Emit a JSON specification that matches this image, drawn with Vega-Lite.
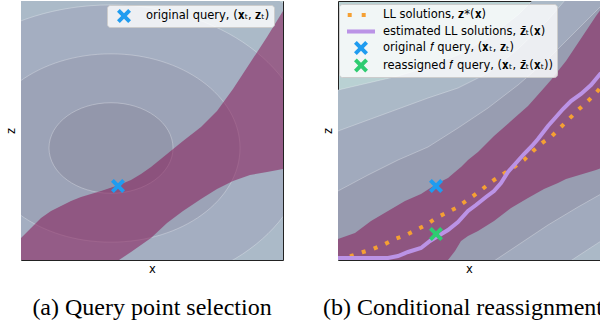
{
  "$schema": "https://vega.github.io/schema/vega-lite/v6.json",
  "background": "white",
  "padding": {"left": 4, "top": 0, "right": 0, "bottom": 0},
  "spacing": 37,
  "config": {
    "axis": {"grid": false, "ticks": false, "labels": false, "domain": false, "titleFont": "DejaVu Sans", "titleFontSize": 11.5, "titleFontWeight": "normal", "titleColor": "#000", "minExtent": 0},
    "axisX": {"titlePadding": 3},
    "axisY": {"titlePadding": 5},
    "view": {"stroke": "#222", "strokeWidth": 1},
    "title": {"font": "Liberation Serif", "fontSize": 24, "fontWeight": "normal", "color": "#000", "orient": "bottom", "offset": 21}
  },
  "datasets": {
    "ellipsesA": [
      {"level": 5, "x": 90, "z": 112, "a": 330},
      {"level": 4, "x": 90, "z": 112, "a": 263},
      {"level": 3, "x": 90, "z": 112, "a": 196},
      {"level": 2, "x": 90, "z": 112, "a": 129},
      {"level": 1, "x": 90, "z": 112, "a": 62}
    ],
    "bandA": [
      {"x": 0, "hi": 22, "lo": 0}, {"x": 10, "hi": 32, "lo": 0}, {"x": 20, "hi": 42, "lo": 0},
      {"x": 30, "hi": 49, "lo": 0}, {"x": 40, "hi": 54, "lo": 0}, {"x": 50, "hi": 59, "lo": 0},
      {"x": 60, "hi": 63, "lo": 0}, {"x": 80, "hi": 69, "lo": 0}, {"x": 98, "hi": 75, "lo": 0},
      {"x": 110, "hi": 80, "lo": 8}, {"x": 120, "hi": 86, "lo": 15}, {"x": 130, "hi": 93, "lo": 22},
      {"x": 146, "hi": 106, "lo": 37}, {"x": 162, "hi": 119, "lo": 49}, {"x": 180, "hi": 133, "lo": 61},
      {"x": 196, "hi": 149, "lo": 71}, {"x": 212, "hi": 171, "lo": 79}, {"x": 229, "hi": 197, "lo": 85},
      {"x": 246, "hi": 223, "lo": 88}, {"x": 262, "hi": 249, "lo": 91}
    ],
    "queryA": [
      {"x": 97, "z": 74, "series": "original query, (𝐱ₜ, 𝐳ₜ)"}
    ],
    "contoursB": [
      {"x": 0, "A": 69, "B": 129, "C": 170, "D": -125, "E": -160},
      {"x": 30, "A": 85, "B": 140, "C": 177, "D": -100, "E": -140},
      {"x": 60, "A": 100, "B": 151, "C": 184, "D": -75, "E": -118},
      {"x": 90, "A": 113, "B": 162, "C": 193, "D": -50, "E": -96},
      {"x": 120, "A": 132, "B": 172, "C": 205, "D": -27, "E": -76},
      {"x": 150, "A": 152, "B": 187, "C": 222, "D": -5, "E": -56},
      {"x": 180, "A": 175, "B": 211, "C": 245, "D": 15, "E": -36},
      {"x": 210, "A": 201, "B": 240, "C": 275, "D": 35, "E": -16},
      {"x": 240, "A": 231, "B": 275, "C": 310, "D": 53, "E": 4},
      {"x": 263, "A": 254, "B": 305, "C": 340, "D": 66, "E": 19}
    ],
    "bandB": [
      {"x": 0, "hi": 21, "lo": 0}, {"x": 17, "hi": 27, "lo": 0}, {"x": 33, "hi": 39, "lo": 0},
      {"x": 50, "hi": 49, "lo": 0}, {"x": 67, "hi": 59, "lo": 0}, {"x": 83, "hi": 66, "lo": 0},
      {"x": 100, "hi": 77, "lo": 0}, {"x": 110, "hi": 82, "lo": 0}, {"x": 117, "hi": 88, "lo": 9},
      {"x": 123, "hi": 93, "lo": 19}, {"x": 130, "hi": 100, "lo": 24}, {"x": 140, "hi": 108, "lo": 29},
      {"x": 156, "hi": 124, "lo": 39}, {"x": 173, "hi": 139, "lo": 52}, {"x": 190, "hi": 154, "lo": 62},
      {"x": 206, "hi": 172, "lo": 71}, {"x": 213, "hi": 180, "lo": 74}, {"x": 220, "hi": 189, "lo": 77},
      {"x": 228, "hi": 199, "lo": 81}, {"x": 238, "hi": 214, "lo": 84}, {"x": 248, "hi": 229, "lo": 87},
      {"x": 258, "hi": 244, "lo": 90}, {"x": 263, "hi": 251, "lo": 92}
    ],
    "llB": [
      {"x": 0, "z": 0}, {"x": 13, "z": 4}, {"x": 25, "z": 8}, {"x": 35, "z": 11}, {"x": 47, "z": 16},
      {"x": 57, "z": 21}, {"x": 68, "z": 25}, {"x": 78, "z": 30}, {"x": 88, "z": 35}, {"x": 98, "z": 42},
      {"x": 108, "z": 47}, {"x": 118, "z": 52}, {"x": 128, "z": 59}, {"x": 138, "z": 66}, {"x": 147, "z": 73},
      {"x": 156, "z": 80}, {"x": 176, "z": 93}, {"x": 186, "z": 100}, {"x": 195, "z": 109}, {"x": 204, "z": 117},
      {"x": 214, "z": 124}, {"x": 222, "z": 132}, {"x": 231, "z": 141}, {"x": 240, "z": 150}, {"x": 250, "z": 159},
      {"x": 258, "z": 167}, {"x": 263, "z": 173}
    ],
    "estB": [
      {"x": 0, "z": 2}, {"x": 50, "z": 2}, {"x": 60, "z": 4}, {"x": 70, "z": 8}, {"x": 83, "z": 12},
      {"x": 92, "z": 19}, {"x": 100, "z": 24}, {"x": 110, "z": 30}, {"x": 120, "z": 38}, {"x": 130, "z": 49},
      {"x": 138, "z": 55}, {"x": 148, "z": 63}, {"x": 156, "z": 69}, {"x": 163, "z": 77}, {"x": 170, "z": 88},
      {"x": 178, "z": 97}, {"x": 186, "z": 106}, {"x": 194, "z": 114}, {"x": 200, "z": 121}, {"x": 210, "z": 134},
      {"x": 218, "z": 143}, {"x": 225, "z": 151}, {"x": 233, "z": 159}, {"x": 243, "z": 166}, {"x": 253, "z": 175},
      {"x": 263, "z": 187}
    ],
    "queryB": [
      {"x": 98, "z": 74, "series": "original 𝑓 query, (𝐱ₜ, 𝐳ₜ)"},
      {"x": 98, "z": 26, "series": "reassigned 𝑓 query, (𝐱ₜ, 𝐳̄ₜ(𝐱ₜ))"}
    ]
  },
  "hconcat": [
    {
      "width": 262,
      "height": 259,
      "title": {"text": "(a) Query point selection", "anchor": "middle"},
      "view": {"fill": "#c2dbda", "stroke": "#222"},
      "layer": [
        {
          "data": {"name": "ellipsesA"},
          "mark": {"type": "point", "filled": true, "opacity": 1, "clip": true, "shape": "M -1 0 A 1 0.73 0 1 1 1 0 A 1 0.73 0 1 1 -1 0 Z", "stroke": "white", "strokeOpacity": 0.35, "strokeWidth": 0.8},
          "encoding": {
            "x": {"field": "x", "type": "quantitative", "title": "x", "scale": {"domain": [0, 262], "nice": false}},
            "y": {"field": "z", "type": "quantitative", "title": "z", "scale": {"domain": [0, 259], "nice": false}},
            "size": {"field": "a", "type": "quantitative", "scale": {"type": "pow", "exponent": 2, "domain": [0, 100], "range": [0, 40000], "nice": false}, "legend": null},
            "fill": {"field": "level", "type": "ordinal", "scale": {"domain": [5, 4, 3, 2, 1], "range": ["#b8cfd2", "#abbac8", "#a4aec1", "#9ca3b7", "#9397ab"]}, "legend": null}
          }
        },
        {
          "data": {"name": "bandA"},
          "mark": {"type": "area", "color": "#861a58", "opacity": 0.55, "clip": true},
          "encoding": {
            "x": {"field": "x", "type": "quantitative", "title": "x"},
            "y": {"field": "hi", "type": "quantitative", "title": "z"},
            "y2": {"field": "lo"}
          }
        },
        {
          "data": {"name": "queryA"},
          "mark": {"type": "point", "filled": true, "opacity": 1, "size": 196, "strokeWidth": 0},
          "encoding": {
            "x": {"field": "x", "type": "quantitative", "title": "x"},
            "y": {"field": "z", "type": "quantitative", "title": "z"},
            "color": {"field": "series", "type": "nominal", "scale": {"domain": ["original query, (𝐱ₜ, 𝐳ₜ)"], "range": ["#1f9cf0"]},
              "legend": {"title": null, "orient": "none", "legendX": 86, "legendY": 4, "fillColor": "rgba(255,255,255,0.8)", "strokeColor": "#cccccc", "cornerRadius": 3, "padding": 4, "symbolSize": 196, "symbolStrokeWidth": 0, "symbolOffset": 6, "labelOffset": 15, "labelFont": "DejaVu Sans", "labelFontSize": 11.5, "labelColor": "#000", "labelLimit": 400, "rowPadding": 3.5}},
            "shape": {"field": "series", "type": "nominal", "scale": {"domain": ["original query, (𝐱ₜ, 𝐳ₜ)"], "range": ["M -1 -0.6 L -0.6 -1 L 0 -0.4 L 0.6 -1 L 1 -0.6 L 0.4 0 L 1 0.6 L 0.6 1 L 0 0.4 L -0.6 1 L -1 0.6 L -0.4 0 Z"]},
              "legend": {"title": null, "orient": "none", "legendX": 86, "legendY": 4, "fillColor": "rgba(255,255,255,0.8)", "strokeColor": "#cccccc", "cornerRadius": 3, "padding": 4, "symbolSize": 196, "symbolStrokeWidth": 0, "symbolOffset": 6, "labelOffset": 15, "labelFont": "DejaVu Sans", "labelFontSize": 11.5, "labelColor": "#000", "labelLimit": 400, "rowPadding": 3.5}}
          }
        }
      ]
    },
    {
      "width": 262,
      "height": 259,
      "title": {"text": "(b) Conditional reassignment", "anchor": "start", "dx": 1},
      "view": {"fill": "#b9d1d3", "stroke": "#222"},
      "layer": [
        {
          "data": {"name": "contoursB"},
          "mark": {"type": "area", "color": "#abb9c7", "opacity": 1, "clip": true},
          "encoding": {
            "x": {"field": "x", "type": "quantitative", "title": "x", "scale": {"domain": [0, 262], "nice": false}},
            "y": {"field": "C", "type": "quantitative", "title": "z", "scale": {"domain": [0, 259], "nice": false}},
            "y2": {"datum": -300}
          }
        },
        {
          "data": {"name": "contoursB"},
          "mark": {"type": "area", "color": "#a1aabd", "opacity": 1, "clip": true},
          "encoding": {
            "x": {"field": "x", "type": "quantitative", "title": "x"},
            "y": {"field": "B", "type": "quantitative", "title": "z"},
            "y2": {"field": "E"}
          }
        },
        {
          "data": {"name": "contoursB"},
          "mark": {"type": "area", "color": "#989db1", "opacity": 1, "clip": true},
          "encoding": {
            "x": {"field": "x", "type": "quantitative", "title": "x"},
            "y": {"field": "A", "type": "quantitative", "title": "z"},
            "y2": {"field": "D"}
          }
        },
        {
          "data": {"name": "contoursB"},
          "transform": [{"fold": ["A", "B", "C", "D", "E"], "as": ["curve", "value"]}],
          "mark": {"type": "line", "color": "white", "opacity": 0.35, "strokeWidth": 0.8, "clip": true},
          "encoding": {
            "x": {"field": "x", "type": "quantitative", "title": "x"},
            "y": {"field": "value", "type": "quantitative", "title": "z"},
            "detail": {"field": "curve", "type": "nominal"}
          }
        },
        {
          "data": {"name": "bandB"},
          "mark": {"type": "area", "color": "#861a58", "opacity": 0.55, "clip": true},
          "encoding": {
            "x": {"field": "x", "type": "quantitative", "title": "x"},
            "y": {"field": "hi", "type": "quantitative", "title": "z"},
            "y2": {"field": "lo"}
          }
        },
        {
          "data": {"name": "llB"},
          "mark": {"type": "line", "color": "#f5a033", "strokeWidth": 4, "strokeDash": [4, 8.5], "strokeCap": "butt", "clip": true},
          "encoding": {
            "x": {"field": "x", "type": "quantitative", "title": "x"},
            "y": {"field": "z", "type": "quantitative", "title": "z"}
          }
        },
        {
          "data": {"name": "estB"},
          "mark": {"type": "line", "color": "#bb93e6", "strokeWidth": 4, "clip": true},
          "encoding": {
            "x": {"field": "x", "type": "quantitative", "title": "x"},
            "y": {"field": "z", "type": "quantitative", "title": "z"}
          }
        },
        {
          "data": {"name": "queryB"},
          "mark": {"type": "point", "filled": true, "opacity": 1, "size": 196, "strokeWidth": 0},
          "encoding": {
            "x": {"field": "x", "type": "quantitative", "title": "x"},
            "y": {"field": "z", "type": "quantitative", "title": "z"},
            "color": {"field": "series", "type": "nominal",
              "scale": {"domain": ["LL solutions, 𝐳*(𝐱)", "estimated LL solutions, 𝐳̄ₜ(𝐱)", "original 𝑓 query, (𝐱ₜ, 𝐳ₜ)", "reassigned 𝑓 query, (𝐱ₜ, 𝐳̄ₜ(𝐱ₜ))"], "range": ["#f5a033", "#bb93e6", "#1f9cf0", "#2ecc71"]},
              "legend": {"title": null, "orient": "none", "legendX": 1, "legendY": 3, "fillColor": "rgba(255,255,255,0.8)", "strokeColor": "#cccccc", "cornerRadius": 3, "padding": 4, "symbolSize": 196, "symbolStrokeWidth": 0, "symbolOffset": 11, "labelOffset": 15, "labelFont": "DejaVu Sans", "labelFontSize": 11.5, "labelColor": "#000", "labelLimit": 400, "rowPadding": 3.5}},
            "shape": {"field": "series", "type": "nominal",
              "scale": {"domain": ["LL solutions, 𝐳*(𝐱)", "estimated LL solutions, 𝐳̄ₜ(𝐱)", "original 𝑓 query, (𝐱ₜ, 𝐳ₜ)", "reassigned 𝑓 query, (𝐱ₜ, 𝐳̄ₜ(𝐱ₜ))"], "range": ["M -1.9 -0.29 L -1.33 -0.29 L -1.33 0.29 L -1.9 0.29 Z M 0.1 -0.29 L 0.67 -0.29 L 0.67 0.29 L 0.1 0.29 Z", "M -2 -0.29 L 2 -0.29 L 2 0.29 L -2 0.29 Z", "M -1 -0.6 L -0.6 -1 L 0 -0.4 L 0.6 -1 L 1 -0.6 L 0.4 0 L 1 0.6 L 0.6 1 L 0 0.4 L -0.6 1 L -1 0.6 L -0.4 0 Z", "M -1 -0.6 L -0.6 -1 L 0 -0.4 L 0.6 -1 L 1 -0.6 L 0.4 0 L 1 0.6 L 0.6 1 L 0 0.4 L -0.6 1 L -1 0.6 L -0.4 0 Z"]},
              "legend": {"title": null, "orient": "none", "legendX": 1, "legendY": 3, "fillColor": "rgba(255,255,255,0.8)", "strokeColor": "#cccccc", "cornerRadius": 3, "padding": 4, "symbolSize": 196, "symbolStrokeWidth": 0, "symbolOffset": 11, "labelOffset": 15, "labelFont": "DejaVu Sans", "labelFontSize": 11.5, "labelColor": "#000", "labelLimit": 400, "rowPadding": 3.5}}
          }
        }
      ]
    }
  ],
  "resolve": {
    "scale": {"x": "independent", "y": "independent", "color": "independent", "shape": "independent", "fill": "independent", "size": "independent"},
    "legend": {"color": "independent", "shape": "independent"}
  }
}
